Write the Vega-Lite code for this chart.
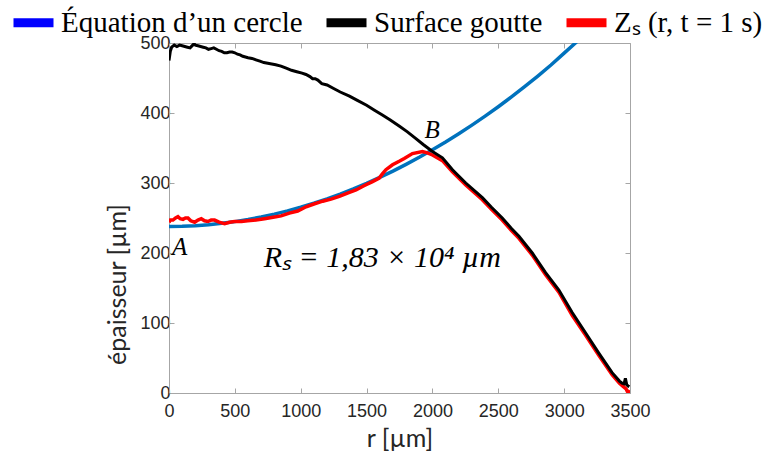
{
  "$schema": "https://vega.github.io/schema/vega-lite/v6.json",
  "width": 461,
  "height": 350,
  "autosize": {"type": "none"},
  "padding": {"left": 169, "top": 43, "right": 134, "bottom": 68},
  "background": "white",
  "config": {
    "view": {"stroke": "#a6a6a6", "strokeWidth": 1},
    "axis": {
      "grid": false,
      "domainColor": "#a6a6a6",
      "tickColor": "#a6a6a6",
      "labelFont": "Liberation Sans",
      "labelFontSize": 18,
      "labelColor": "#262626",
      "labelOverlap": false,
      "labelFlush": false,
      "titleFont": "Lato",
      "titleFontSize": 25,
      "titleFontWeight": "normal",
      "titleColor": "#262626"
    }
  },
  "datasets": {
    "curves": [
      {"r": 0, "z": 238, "series": "cercle"},
      {"r": 100, "z": 238.3, "series": "cercle"},
      {"r": 200, "z": 239.1, "series": "cercle"},
      {"r": 300, "z": 240.5, "series": "cercle"},
      {"r": 400, "z": 242.4, "series": "cercle"},
      {"r": 500, "z": 244.8, "series": "cercle"},
      {"r": 600, "z": 247.8, "series": "cercle"},
      {"r": 700, "z": 251.4, "series": "cercle"},
      {"r": 800, "z": 255.5, "series": "cercle"},
      {"r": 900, "z": 260.1, "series": "cercle"},
      {"r": 1000, "z": 265.3, "series": "cercle"},
      {"r": 1100, "z": 271.1, "series": "cercle"},
      {"r": 1200, "z": 277.4, "series": "cercle"},
      {"r": 1300, "z": 284.2, "series": "cercle"},
      {"r": 1400, "z": 291.6, "series": "cercle"},
      {"r": 1500, "z": 299.5, "series": "cercle"},
      {"r": 1600, "z": 308.0, "series": "cercle"},
      {"r": 1700, "z": 317.0, "series": "cercle"},
      {"r": 1800, "z": 326.6, "series": "cercle"},
      {"r": 1900, "z": 336.7, "series": "cercle"},
      {"r": 2000, "z": 347.4, "series": "cercle"},
      {"r": 2100, "z": 358.6, "series": "cercle"},
      {"r": 2200, "z": 370.4, "series": "cercle"},
      {"r": 2300, "z": 382.7, "series": "cercle"},
      {"r": 2400, "z": 395.6, "series": "cercle"},
      {"r": 2500, "z": 409.0, "series": "cercle"},
      {"r": 2600, "z": 423.0, "series": "cercle"},
      {"r": 2700, "z": 437.6, "series": "cercle"},
      {"r": 2800, "z": 452.8, "series": "cercle"},
      {"r": 2900, "z": 468.6, "series": "cercle"},
      {"r": 3000, "z": 485.5, "series": "cercle"},
      {"r": 3100, "z": 502.5, "series": "cercle"},

      {"r": 0, "z": 475, "series": "goutte"},
      {"r": 10, "z": 488, "series": "goutte"},
      {"r": 20, "z": 494, "series": "goutte"},
      {"r": 40, "z": 497, "series": "goutte"},
      {"r": 60, "z": 495, "series": "goutte"},
      {"r": 80, "z": 497, "series": "goutte"},
      {"r": 100, "z": 496, "series": "goutte"},
      {"r": 120, "z": 495, "series": "goutte"},
      {"r": 140, "z": 494, "series": "goutte"},
      {"r": 160, "z": 493, "series": "goutte"},
      {"r": 180, "z": 497, "series": "goutte"},
      {"r": 190, "z": 499, "series": "goutte"},
      {"r": 200, "z": 497, "series": "goutte"},
      {"r": 220, "z": 496, "series": "goutte"},
      {"r": 240, "z": 495, "series": "goutte"},
      {"r": 260, "z": 494, "series": "goutte"},
      {"r": 280, "z": 493, "series": "goutte"},
      {"r": 300, "z": 491, "series": "goutte"},
      {"r": 320, "z": 492, "series": "goutte"},
      {"r": 340, "z": 493, "series": "goutte"},
      {"r": 360, "z": 491, "series": "goutte"},
      {"r": 380, "z": 489, "series": "goutte"},
      {"r": 400, "z": 488, "series": "goutte"},
      {"r": 420, "z": 486, "series": "goutte"},
      {"r": 440, "z": 486, "series": "goutte"},
      {"r": 460, "z": 487, "series": "goutte"},
      {"r": 480, "z": 487, "series": "goutte"},
      {"r": 500, "z": 486, "series": "goutte"},
      {"r": 520, "z": 484, "series": "goutte"},
      {"r": 540, "z": 483, "series": "goutte"},
      {"r": 560, "z": 481, "series": "goutte"},
      {"r": 580, "z": 480, "series": "goutte"},
      {"r": 600, "z": 479, "series": "goutte"},
      {"r": 630, "z": 478, "series": "goutte"},
      {"r": 660, "z": 476, "series": "goutte"},
      {"r": 690, "z": 474, "series": "goutte"},
      {"r": 720, "z": 472, "series": "goutte"},
      {"r": 750, "z": 471, "series": "goutte"},
      {"r": 780, "z": 470, "series": "goutte"},
      {"r": 810, "z": 469, "series": "goutte"},
      {"r": 850, "z": 467, "series": "goutte"},
      {"r": 890, "z": 464, "series": "goutte"},
      {"r": 930, "z": 461, "series": "goutte"},
      {"r": 970, "z": 459, "series": "goutte"},
      {"r": 1010, "z": 457, "series": "goutte"},
      {"r": 1040, "z": 455, "series": "goutte"},
      {"r": 1070, "z": 452, "series": "goutte"},
      {"r": 1090, "z": 449, "series": "goutte"},
      {"r": 1110, "z": 449, "series": "goutte"},
      {"r": 1130, "z": 447, "series": "goutte"},
      {"r": 1160, "z": 442, "series": "goutte"},
      {"r": 1200, "z": 440, "series": "goutte"},
      {"r": 1250, "z": 435, "series": "goutte"},
      {"r": 1300, "z": 430, "series": "goutte"},
      {"r": 1370, "z": 424, "series": "goutte"},
      {"r": 1430, "z": 418, "series": "goutte"},
      {"r": 1500, "z": 411, "series": "goutte"},
      {"r": 1560, "z": 404, "series": "goutte"},
      {"r": 1620, "z": 397, "series": "goutte"},
      {"r": 1680, "z": 390, "series": "goutte"},
      {"r": 1750, "z": 381, "series": "goutte"},
      {"r": 1810, "z": 373, "series": "goutte"},
      {"r": 1870, "z": 364, "series": "goutte"},
      {"r": 1930, "z": 355, "series": "goutte"},
      {"r": 2000, "z": 345, "series": "goutte"},
      {"r": 2076, "z": 336, "series": "goutte"},
      {"r": 2152, "z": 319, "series": "goutte"},
      {"r": 2253, "z": 300, "series": "goutte"},
      {"r": 2379, "z": 279, "series": "goutte"},
      {"r": 2450, "z": 265, "series": "goutte"},
      {"r": 2530, "z": 250, "series": "goutte"},
      {"r": 2600, "z": 235, "series": "goutte"},
      {"r": 2657, "z": 224, "series": "goutte"},
      {"r": 2758, "z": 200, "series": "goutte"},
      {"r": 2859, "z": 172, "series": "goutte"},
      {"r": 2960, "z": 147, "series": "goutte"},
      {"r": 3061, "z": 115, "series": "goutte"},
      {"r": 3162, "z": 86, "series": "goutte"},
      {"r": 3263, "z": 57, "series": "goutte"},
      {"r": 3364, "z": 29, "series": "goutte"},
      {"r": 3420, "z": 17, "series": "goutte"},
      {"r": 3440, "z": 14, "series": "goutte"},
      {"r": 3455, "z": 13, "series": "goutte"},
      {"r": 3465, "z": 21, "series": "goutte"},
      {"r": 3475, "z": 12, "series": "goutte"},
      {"r": 3485, "z": 10, "series": "goutte"},
      {"r": 3495, "z": 9, "series": "goutte"},

      {"r": 0, "z": 244, "series": "zs"},
      {"r": 10, "z": 247, "series": "zs"},
      {"r": 30, "z": 247, "series": "zs"},
      {"r": 50, "z": 250, "series": "zs"},
      {"r": 68, "z": 252, "series": "zs"},
      {"r": 85, "z": 249, "series": "zs"},
      {"r": 106, "z": 248, "series": "zs"},
      {"r": 125, "z": 250, "series": "zs"},
      {"r": 144, "z": 250, "series": "zs"},
      {"r": 165, "z": 246, "series": "zs"},
      {"r": 195, "z": 244, "series": "zs"},
      {"r": 220, "z": 247, "series": "zs"},
      {"r": 245, "z": 249, "series": "zs"},
      {"r": 270, "z": 246, "series": "zs"},
      {"r": 295, "z": 245, "series": "zs"},
      {"r": 320, "z": 247, "series": "zs"},
      {"r": 346, "z": 247, "series": "zs"},
      {"r": 380, "z": 244, "series": "zs"},
      {"r": 422, "z": 242, "series": "zs"},
      {"r": 460, "z": 244, "series": "zs"},
      {"r": 498, "z": 245, "series": "zs"},
      {"r": 550, "z": 245, "series": "zs"},
      {"r": 598, "z": 246, "series": "zs"},
      {"r": 660, "z": 247, "series": "zs"},
      {"r": 725, "z": 249, "series": "zs"},
      {"r": 790, "z": 251, "series": "zs"},
      {"r": 851, "z": 253, "series": "zs"},
      {"r": 914, "z": 257, "series": "zs"},
      {"r": 977, "z": 260, "series": "zs"},
      {"r": 1041, "z": 266, "series": "zs"},
      {"r": 1100, "z": 270, "series": "zs"},
      {"r": 1167, "z": 274, "series": "zs"},
      {"r": 1230, "z": 277, "series": "zs"},
      {"r": 1293, "z": 281, "series": "zs"},
      {"r": 1360, "z": 286, "series": "zs"},
      {"r": 1420, "z": 290, "series": "zs"},
      {"r": 1480, "z": 296, "series": "zs"},
      {"r": 1545, "z": 302, "series": "zs"},
      {"r": 1596, "z": 307, "series": "zs"},
      {"r": 1620, "z": 313, "series": "zs"},
      {"r": 1647, "z": 319, "series": "zs"},
      {"r": 1697, "z": 326, "series": "zs"},
      {"r": 1748, "z": 331, "series": "zs"},
      {"r": 1786, "z": 335, "series": "zs"},
      {"r": 1848, "z": 342, "series": "zs"},
      {"r": 1924, "z": 345, "series": "zs"},
      {"r": 1962, "z": 343, "series": "zs"},
      {"r": 2000, "z": 340, "series": "zs"},
      {"r": 2076, "z": 332, "series": "zs"},
      {"r": 2152, "z": 316, "series": "zs"},
      {"r": 2253, "z": 297, "series": "zs"},
      {"r": 2379, "z": 276, "series": "zs"},
      {"r": 2450, "z": 262, "series": "zs"},
      {"r": 2530, "z": 247, "series": "zs"},
      {"r": 2600, "z": 232, "series": "zs"},
      {"r": 2657, "z": 221, "series": "zs"},
      {"r": 2758, "z": 197, "series": "zs"},
      {"r": 2859, "z": 169, "series": "zs"},
      {"r": 2960, "z": 144, "series": "zs"},
      {"r": 3061, "z": 111, "series": "zs"},
      {"r": 3162, "z": 83, "series": "zs"},
      {"r": 3263, "z": 54, "series": "zs"},
      {"r": 3364, "z": 26, "series": "zs"},
      {"r": 3420, "z": 14, "series": "zs"},
      {"r": 3450, "z": 9, "series": "zs"},
      {"r": 3470, "z": 6, "series": "zs"},
      {"r": 3480, "z": 2, "series": "zs"},
      {"r": 3490, "z": 0, "series": "zs"},
      {"r": 3500, "z": 4, "series": "zs"}
    ],
    "points": [
      {"r": 81, "z": 209, "label": "A"},
      {"r": 1998, "z": 376, "label": "B"}
    ],
    "formula": [
      {"r": 1620, "z": 193, "label": "Rₛ = 1,83 × 10⁴ µm"}
    ]
  },
  "resolve": {"axis": {"x": "independent", "y": "independent"}},
  "layer": [
    {
      "data": {"name": "curves"},
      "transform": [{"filter": "datum.series === 'cercle'"}],
      "mark": {"type": "line", "color": "#0072BD", "strokeWidth": 3.5, "clip": true},
      "encoding": {
        "x": {"field": "r", "type": "quantitative", "scale": {"domain": [0, 3500], "nice": false},
          "axis": {"orient": "bottom", "values": [0, 500, 1000, 1500, 2000, 2500, 3000, 3500], "format": "d", "tickSize": -5, "labelPadding": 14, "title": "r [µm]", "titlePadding": 6}},
        "y": {"field": "z", "type": "quantitative", "scale": {"domain": [0, 500], "nice": false},
          "axis": {"orient": "left", "values": [0, 100, 200, 300, 400, 500], "format": "d", "tickSize": -5, "labelPadding": 4, "title": "épaisseur [µm]", "titleX": -39, "titleY": 241, "titleAnchor": "middle"}}
      }
    },
    {
      "data": {"name": "curves"},
      "transform": [{"filter": "datum.series === 'zs'"}],
      "mark": {"type": "line", "strokeWidth": 3.5, "clip": true},
      "encoding": {
        "x": {"field": "r", "type": "quantitative",
          "axis": {"orient": "top", "values": [0, 500, 1000, 1500, 2000, 2500, 3000, 3500], "tickSize": -5, "labels": false, "title": null, "domain": false}},
        "y": {"field": "z", "type": "quantitative",
          "axis": {"orient": "right", "values": [0, 100, 200, 300, 400, 500], "tickSize": -5, "labels": false, "title": null, "domain": false}},
        "color": {"datum": "Zₛ (r, t = 1 s)", "type": "nominal",
          "scale": {"domain": ["Équation d’un cercle", "Surface goutte", "Zₛ (r, t = 1 s)"], "range": ["#0000FF", "#000000", "#FF0000"]},
          "legend": {"orient": "none", "direction": "horizontal", "legendX": -160, "legendY": -45, "title": null,
            "symbolType": "stroke", "symbolSize": 1600, "symbolStrokeWidth": 9, "symbolOpacity": 1,
            "labelFont": "Liberation Serif", "labelFontSize": 29, "labelColor": "#000000", "labelOffset": 3,
            "columnPadding": 5, "labelLimit": 400, "padding": 0}}
      }
    },
    {
      "data": {"name": "curves"},
      "transform": [{"filter": "datum.series === 'goutte'"}],
      "mark": {"type": "line", "strokeWidth": 3, "clip": true},
      "encoding": {
        "x": {"field": "r", "type": "quantitative", "axis": null},
        "y": {"field": "z", "type": "quantitative", "axis": null},
        "color": {"datum": "Surface goutte", "type": "nominal"}
      }
    },
    {
      "data": {"name": "points"},
      "mark": {"type": "text", "font": "Liberation Serif", "fontStyle": "italic", "fontSize": 25, "color": "#000000", "align": "center", "baseline": "middle"},
      "encoding": {
        "x": {"field": "r", "type": "quantitative", "axis": null},
        "y": {"field": "z", "type": "quantitative", "axis": null},
        "text": {"field": "label"}
      }
    },
    {
      "data": {"name": "formula"},
      "mark": {"type": "text", "font": "Liberation Serif", "fontStyle": "italic", "fontSize": 30, "color": "#000000", "align": "center", "baseline": "middle"},
      "encoding": {
        "x": {"field": "r", "type": "quantitative", "axis": null},
        "y": {"field": "z", "type": "quantitative", "axis": null},
        "text": {"field": "label"}
      }
    }
  ]
}
